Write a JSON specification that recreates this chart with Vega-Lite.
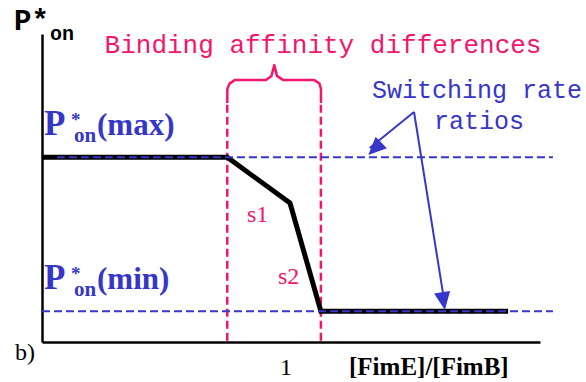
{
  "$schema": "https://vega.github.io/schema/vega-lite/v6.json",
  "width": 498,
  "height": 308,
  "autosize": {"type": "none"},
  "padding": {"left": 42, "top": 34, "right": 46, "bottom": 40},
  "background": "white",
  "view": {"stroke": null},
  "config": {
    "axis": {"labels": false, "ticks": false, "grid": false, "domainColor": "#000000", "domainWidth": 2.5}
  },
  "encoding": {
    "x": {"field": "x", "type": "quantitative", "scale": {"domain": [0, 10], "nice": false, "zero": false}, "axis": {"title": null}},
    "y": {"field": "y", "type": "quantitative", "scale": {"domain": [0, 1], "nice": false, "zero": false}, "axis": {"title": null}}
  },
  "layer": [
    {
      "description": "binding affinity window boundaries",
      "data": {"values": [{"x": 3.72, "y": 0.77, "y2": 0}, {"x": 5.6, "y": 0.77, "y2": 0}]},
      "mark": {"type": "rule", "color": "#f2166e", "strokeWidth": 2.5, "strokeDash": [8, 4]},
      "encoding": {"y2": {"field": "y2"}}
    },
    {
      "description": "brace over the window",
      "data": {"values": [
        {"i": 0, "x": 3.721, "y": 0.776},
        {"i": 1, "x": 3.721, "y": 0.821},
        {"i": 2, "x": 3.765, "y": 0.839},
        {"i": 3, "x": 3.876, "y": 0.851},
        {"i": 4, "x": 4.498, "y": 0.851},
        {"i": 5, "x": 4.608, "y": 0.864},
        {"i": 6, "x": 4.665, "y": 0.899},
        {"i": 7, "x": 4.719, "y": 0.864},
        {"i": 8, "x": 4.839, "y": 0.851},
        {"i": 9, "x": 5.462, "y": 0.851},
        {"i": 10, "x": 5.572, "y": 0.839},
        {"i": 11, "x": 5.602, "y": 0.821},
        {"i": 12, "x": 5.602, "y": 0.776}
      ]},
      "mark": {"type": "line", "color": "#f2166e", "strokeWidth": 2.5, "strokeJoin": "round"},
      "encoding": {"order": {"field": "i"}}
    },
    {
      "description": "P*on response curve",
      "data": {"values": [
        {"x": 0, "y": 0.6},
        {"x": 3.72, "y": 0.6},
        {"x": 4.98, "y": 0.451},
        {"x": 5.6, "y": 0.1},
        {"x": 9.36, "y": 0.1}
      ]},
      "mark": {"type": "line", "color": "#000000", "strokeWidth": 5, "strokeJoin": "miter"}
    },
    {
      "description": "max and min levels",
      "data": {"values": [{"x": 0.3, "x2": 10.26, "y": 0.6}, {"x": 0, "x2": 10.26, "y": 0.1}]},
      "mark": {"type": "rule", "color": "#3636c8", "strokeWidth": 2, "strokeDash": [8, 4]},
      "encoding": {"x2": {"field": "x2"}}
    },
    {
      "description": "arrow shafts",
      "data": {"values": [
        {"x": 7.47, "y": 0.747, "x2": 6.58, "y2": 0.63},
        {"x": 7.47, "y": 0.747, "x2": 8.08, "y2": 0.13}
      ]},
      "mark": {"type": "rule", "color": "#3636c8", "strokeWidth": 2},
      "encoding": {"x2": {"field": "x2"}, "y2": {"field": "y2"}}
    },
    {
      "data": {"values": [{"x": 6.552, "y": 0.607}]},
      "mark": {"type": "point", "shape": "M0,0L-0.45,1L0.45,1Z", "size": 1296, "filled": true, "opacity": 1, "color": "#3636c8", "angle": 226}
    },
    {
      "data": {"values": [{"x": 8.09, "y": 0.104}]},
      "mark": {"type": "point", "shape": "M0,0L-0.45,1L0.45,1Z", "size": 1296, "filled": true, "opacity": 1, "color": "#3636c8", "angle": 171}
    },
    {
      "data": {"values": [{"x": -0.562, "y": 1.013, "t": "P*"}]},
      "mark": {"type": "text", "font": "Liberation Mono", "fontWeight": "bold", "fontSize": 29, "align": "left", "baseline": "alphabetic", "color": "#000000"},
      "encoding": {"text": {"field": "t"}}
    },
    {
      "data": {"values": [{"x": 0.161, "y": 0.981, "t": "on"}]},
      "mark": {"type": "text", "font": "Liberation Mono", "fontWeight": "bold", "fontSize": 20, "align": "left", "baseline": "alphabetic", "color": "#000000"},
      "encoding": {"text": {"field": "t"}}
    },
    {
      "data": {"values": [{"x": 5.643, "y": 0.938, "t": "Binding affinity differences"}]},
      "mark": {"type": "text", "font": "Liberation Mono", "fontSize": 26, "align": "center", "baseline": "alphabetic", "color": "#f2166e"},
      "encoding": {"text": {"field": "t"}}
    },
    {
      "data": {"values": [{"x": 6.627, "y": 0.792, "t": "Switching rate"}, {"x": 7.871, "y": 0.692, "t": "ratios"}]},
      "mark": {"type": "text", "font": "Liberation Mono", "fontSize": 25, "align": "left", "baseline": "alphabetic", "color": "#3636c8"},
      "encoding": {"text": {"field": "t"}}
    },
    {
      "data": {"values": [{"x": 0.04, "y": 0.672, "t": "P"}, {"x": 0.04, "y": 0.172, "t": "P"}]},
      "mark": {"type": "text", "font": "Liberation Serif", "fontWeight": "bold", "fontSize": 35, "align": "left", "baseline": "alphabetic", "color": "#3636c8"},
      "encoding": {"text": {"field": "t"}}
    },
    {
      "data": {"values": [{"x": 1.104, "y": 0.672, "t": "(max)"}, {"x": 1.104, "y": 0.172, "t": "(min)"}]},
      "mark": {"type": "text", "font": "Liberation Serif", "fontWeight": "bold", "fontSize": 31, "align": "left", "baseline": "alphabetic", "color": "#3636c8"},
      "encoding": {"text": {"field": "t"}}
    },
    {
      "data": {"values": [{"x": 0.58, "y": 0.7, "t": "*"}, {"x": 0.58, "y": 0.2, "t": "*"}]},
      "mark": {"type": "text", "font": "Liberation Serif", "fontWeight": "bold", "fontSize": 19, "align": "left", "baseline": "alphabetic", "color": "#3636c8"},
      "encoding": {"text": {"field": "t"}}
    },
    {
      "data": {"values": [{"x": 0.643, "y": 0.649, "t": "on"}, {"x": 0.643, "y": 0.149, "t": "on"}]},
      "mark": {"type": "text", "font": "Liberation Serif", "fontWeight": "bold", "fontSize": 21, "align": "left", "baseline": "alphabetic", "color": "#3636c8"},
      "encoding": {"text": {"field": "t"}}
    },
    {
      "data": {"values": [{"x": 4.116, "y": 0.39, "t": "s1"}, {"x": 4.739, "y": 0.188, "t": "s2"}]},
      "mark": {"type": "text", "font": "Liberation Serif", "fontSize": 24, "align": "left", "baseline": "alphabetic", "color": "#f2166e"},
      "encoding": {"text": {"field": "t"}}
    },
    {
      "data": {"values": [{"x": -0.542, "y": -0.058, "t": "b)"}, {"x": 4.779, "y": -0.106, "t": "1"}]},
      "mark": {"type": "text", "font": "Liberation Serif", "fontSize": 24, "align": "left", "baseline": "alphabetic", "color": "#000000"},
      "encoding": {"text": {"field": "t"}}
    },
    {
      "data": {"values": [{"x": 6.165, "y": -0.106, "t": "[FimE]/[FimB]"}]},
      "mark": {"type": "text", "font": "Liberation Serif", "fontWeight": "bold", "fontSize": 25, "align": "left", "baseline": "alphabetic", "color": "#000000"},
      "encoding": {"text": {"field": "t"}}
    }
  ]
}
